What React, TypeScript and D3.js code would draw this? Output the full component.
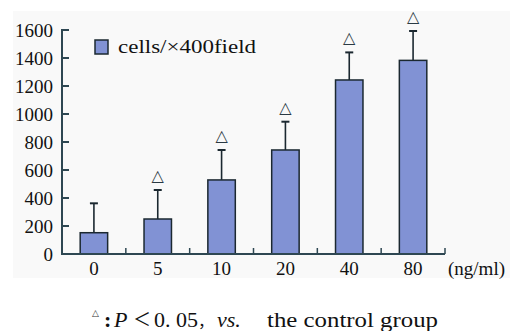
import React from 'react';
import * as d3 from 'd3';

const categories = ['0', '5', '10', '20', '40', '80'];
const means = [152, 250, 529, 743, 1243, 1383];
const errors = [210, 207, 214, 202, 197, 210];
const significant = [false, true, true, true, true, true];
const yTicks = [0, 200, 400, 600, 800, 1000, 1200, 1400, 1600];

const W = 513;
const H = 331;
const left = 62;
const right = 445;
const top = 30;
const bottom = 254;

const BAR_FILL = '#8192d4';
const BAR_STROKE = '#1b2830';
const AXIS = '#2e4752';
const SERIF = "'Liberation Serif', 'Times New Roman', 'DejaVu Serif', serif";
const serifStyle = { fontFamily: SERIF };
const symStyle = { fontFamily: "'DejaVu Sans', sans-serif" };
const cjkStyle = { fontFamily: "'Noto Sans CJK SC', sans-serif" };

export default function App() {
  const x = d3.scaleBand<string>().domain(categories).range([left, right]).paddingInner(0.57).paddingOuter(0.285);
  const y = d3.scaleLinear().domain([0, 1600]).range([bottom, top]);
  const bw = x.bandwidth();
  const step = x.step();
  const boundaries = categories.map((c) => (x(c) as number) + bw / 2 + step / 2);

  return (
    <svg width={W} height={H} style={{ position: 'absolute', left: 0, top: 0, background: '#fff' }}>
      <rect x={13} y={11} width={497} height={267} fill="#f9f9f9" />
      {categories.map((c, i) => {
        const bx = x(c) as number;
        const cx = bx + bw / 2;
        const yTop = y(means[i]);
        const yErr = y(means[i] + errors[i]);
        return (
          <g key={c}>
            <line x1={cx} x2={cx} y1={yTop} y2={yErr} stroke={BAR_STROKE} strokeWidth={1.6} />
            <line x1={cx - 4} x2={cx + 4} y1={yErr} y2={yErr} stroke={BAR_STROKE} strokeWidth={2} />
            <rect x={bx} y={yTop} width={bw} height={bottom - yTop} fill={BAR_FILL} stroke={BAR_STROKE} strokeWidth={1.5} />
            {significant[i] && (
              <text x={cx} y={yErr - 9} textAnchor="middle" style={symStyle} fontSize={16} fill="#2a3a44">
                △
              </text>
            )}
          </g>
        );
      })}
      <line x1={left} x2={left} y1={top - 1} y2={bottom + 1} stroke={AXIS} strokeWidth={2} />
      {yTicks.map((t) => (
        <g key={t}>
          <line x1={left} x2={left + 7} y1={y(t)} y2={y(t)} stroke={AXIS} strokeWidth={2} />
          <text x={53} y={y(t) + 7} textAnchor="end" style={serifStyle} fontSize={19} fill="#111">
            {t}
          </text>
        </g>
      ))}
      <line x1={left} x2={right} y1={bottom} y2={bottom} stroke={AXIS} strokeWidth={2} />
      {boundaries.map((b, i) => (
        <line key={i} x1={b} x2={b} y1={bottom} y2={bottom - 6} stroke={AXIS} strokeWidth={1.5} />
      ))}
      {categories.map((c) => (
        <text key={c} x={(x(c) as number) + bw / 2} y={275} textAnchor="middle" style={serifStyle} fontSize={19} fill="#111">
          {c}
        </text>
      ))}
      <text x={448} y={275} style={serifStyle} fontSize={19} fill="#111">
        (ng/ml)
      </text>
      <rect x={95} y={40} width={13} height={14} fill={BAR_FILL} stroke={BAR_STROKE} strokeWidth={1.5} />
      <text x={118} y={53} style={serifStyle} fontSize={18} fill="#111" textLength={138} lengthAdjust="spacingAndGlyphs">
        cells/×400field
      </text>
      <text x={92} y={316} style={symStyle} fontSize={9} fill="#333">
        △
      </text>
      <g style={serifStyle} fontSize={22} fill="#111">
        <text x={104} y={327} fontWeight="bold">:</text>
        <text x={114} y={327} fontStyle="italic">P</text>
        <text x={133} y={326} style={cjkStyle} fontSize={18}>＜</text>
        <text x={154} y={327}>0. 05</text>
        <text x={198} y={327} style={cjkStyle} fontSize={16}>，</text>
        <text x={217} y={327} fontStyle="italic">vs.</text>
        <text x={267} y={327} textLength={171} lengthAdjust="spacingAndGlyphs">the control group</text>
      </g>
    </svg>
  );
}
